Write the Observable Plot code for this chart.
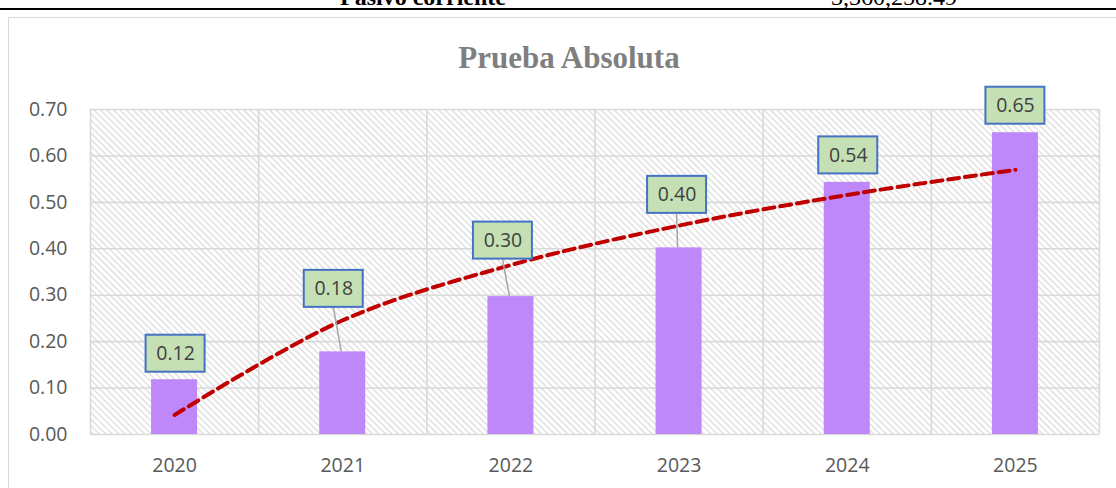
<!DOCTYPE html>
<html>
<head>
<meta charset="utf-8">
<script src="https://cdn.jsdelivr.net/npm/d3@7"></script>
<script src="https://cdn.jsdelivr.net/npm/@observablehq/plot@0.6"></script>
<style>
  html, body { margin: 0; padding: 0; background: #fff; }
  body { width: 1116px; height: 488px; overflow: hidden; position: relative; font-family: "Open Sans", sans-serif; }
  #topline { position: absolute; left: 0; top: 8px; width: 1116px; height: 2px; background: #000; }
  .toptext { position: absolute; top: -15px; font-family: "Liberation Serif", serif; font-size: 24px; line-height: 24px; color: #000; white-space: nowrap; }
  #box { position: absolute; left: 8px; top: 17px; width: 1130px; height: 500px; border: 1px solid #d9d9d9; box-sizing: border-box; }
  #title { position: absolute; top: 42px; left: 0; width: 1138px; text-align: center; font-family: "Liberation Serif", serif; font-weight: bold; font-size: 31px; line-height: 31px; color: #7f7f7f; }
  #chart { position: absolute; left: 0; top: 80px; }
</style>
</head>
<body>
<div class="toptext" style="left:340px;font-weight:bold;">Pasivo corriente</div>
<div class="toptext" style="left:831px;">3,360,258.49</div>
<div id="topline"></div>
<div id="box"></div>
<div id="title">Prueba Absoluta</div>
<div id="chart"></div>
<script>
// ---- data ----
const years = ["2020", "2021", "2022", "2023", "2024", "2025"];
const ratios = [0.118, 0.178, 0.297, 0.402, 0.543, 0.650];
const labels = ["0.12", "0.18", "0.30", "0.40", "0.54", "0.65"];
const trend = [0.042, 0.246, 0.365, 0.450, 0.516, 0.570];
const yTicks = [0, 0.1, 0.2, 0.3, 0.4, 0.5, 0.6, 0.7];
const yTickLabels = ["0.00", "0.10", "0.20", "0.30", "0.40", "0.50", "0.60", "0.70"];

// ---- layout / style ----
const labelNudge = [[1, -26], [-9, -63], [-8, -56], [-2, -53], [1, -27], [0, -27]]; // px from bar top
const W = 1116, H = 408, ML = 90, MR = 17, MT = 29, MB = 54;
const step = (W - ML - MR) / years.length;
const barPad = 1 - 46 / step;

const bars = years.map((y, i) => ({year: y, value: ratios[i], label: labels[i], nudge: labelNudge[i]}));
const trendData = years.map((y, i) => ({year: y, t: trend[i]}));

const defs = () => {
  const d = d3.create("svg:defs");
  const p = d.append("pattern").attr("id", "hatch").attr("patternUnits", "userSpaceOnUse")
    .attr("width", 4.6).attr("height", 4.6).attr("patternTransform", "rotate(45)");
  p.append("rect").attr("width", 4.6).attr("height", 4.6).attr("fill", "#ffffff");
  p.append("rect").attr("width", 4.6).attr("height", 1.4).attr("fill", "#dedede");
  return d.node();
};

const grid = "#d9d9d9";
const plot = Plot.plot({
  width: W, height: H,
  marginLeft: ML, marginRight: MR, marginTop: MT, marginBottom: MB,
  style: {fontFamily: "Open Sans, sans-serif", fontSize: "19.5px", color: "#595959", background: "transparent"},
  x: {domain: years, paddingInner: barPad, paddingOuter: barPad / 2, round: false, tickSize: 0, tickPadding: 24, label: null},
  y: {domain: [0, 0.7], ticks: yTicks, tickFormat: (d) => yTickLabels[yTicks.indexOf(d)], tickSize: 0, tickPadding: 23, label: null},
  marks: [
    defs,
    Plot.frame({fill: "url(#hatch)", stroke: "none"}),
    Plot.ruleY(yTicks, {stroke: grid, strokeWidth: 1.6}),
    Plot.ruleX(years, {x: d => d, dx: -step / 2, stroke: grid, strokeWidth: 1.6}),
    Plot.ruleX(years.slice(-1), {x: d => d, dx: step / 2, stroke: grid, strokeWidth: 1.6}),
    Plot.barY(bars, {x: "year", y: "value", fill: "#BF88FA"}),
    Plot.line(trendData, {x: "year", y: "t", stroke: "#C00000", strokeWidth: 4, strokeDasharray: "11,6", curve: "catmull-rom"}),
    ...bars.map(b => Plot.text([b], {x: "year", y: "value", text: "label", dx: b.nudge[0], dy: b.nudge[1], fill: "#404040", fontSize: 19.5}))
  ]
});
document.getElementById("chart").appendChild(plot);

// label boxes and leader lines placed with the plot's own scales
const xs = plot.scale("x"), ys = plot.scale("y");
const svg = d3.select(plot);
const g = svg.append("g");
const BW = 59, BH = 37;
bars.forEach(b => {
  const bx = xs.apply(b.year) + xs.bandwidth / 2;
  const by = ys.apply(b.value);
  const cx = bx + b.nudge[0], cy = by + b.nudge[1];
  if (b.nudge[1] < -40) {
    g.append("line").attr("x1", cx).attr("y1", cy + BH / 2).attr("x2", bx - 1).attr("y2", by)
      .attr("stroke", "#a6a6a6").attr("stroke-width", 1.5);
  }
  g.append("rect").attr("x", cx - BW / 2).attr("y", cy - BH / 2).attr("width", BW).attr("height", BH)
    .attr("fill", "#C5E0B4").attr("stroke", "#4472C4").attr("stroke-width", 2);
});
svg.selectAll('g[aria-label="text"]').each(function() { plot.appendChild(this); });
</script>
</body>
</html>
